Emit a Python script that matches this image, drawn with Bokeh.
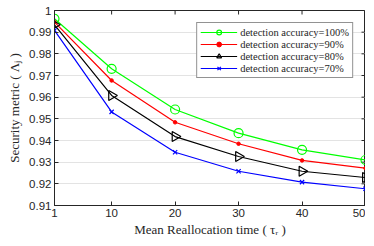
import math
from bokeh.plotting import figure
from bokeh.models import FixedTicker, CustomJSTickFormatter, Legend, LegendItem, Range1d
from bokeh.embed import file_html
from bokeh.resources import INLINE

x_vals = [1, 10, 20, 30, 40, 50]
acc100 = [0.9962, 0.9731, 0.9543, 0.9434, 0.9357, 0.9310]
acc90 = [0.9946, 0.9677, 0.9484, 0.9385, 0.9308, 0.9272]
acc80 = [0.9934, 0.9608, 0.9418, 0.9326, 0.9258, 0.9229]
acc70 = [0.9908, 0.9532, 0.9346, 0.9258, 0.9208, 0.9177]
labels = ["detection accuracy=100%", "detection accuracy=90%",
          "detection accuracy=80%", "detection accuracy=70%"]
x_ticks = [1, 10, 20, 30, 40, 50]
y_ticks = [0.91, 0.92, 0.93, 0.94, 0.95, 0.96, 0.97, 0.98, 0.99, 1.0]
x_min, x_max = 1, 50
y_min, y_max = 0.91, 1.0

p = figure(frame_width=311, frame_height=195, output_backend="svg", toolbar_location=None,
           x_range=Range1d(x_min, x_max), y_range=Range1d(y_min, y_max),
           min_border_left=54, min_border_right=0, min_border_top=10, min_border_bottom=36)
p.outline_line_color = "#262626"
p.outline_line_width = 1
p.xgrid.visible = False
p.ygrid.ticker = FixedTicker(ticks=y_ticks)
p.ygrid.grid_line_color = "#e3e3e3"

fmt = CustomJSTickFormatter(code="return tick.toFixed(2).replace(/0+$/,'').replace(/\\.$/,'');")
for ax in p.xaxis:
    ax.ticker = FixedTicker(ticks=x_ticks)
for ax in p.yaxis:
    ax.ticker = FixedTicker(ticks=y_ticks)
    ax.formatter = fmt

for ax in list(p.xaxis) + list(p.yaxis):
    ax.major_tick_in = 4
    ax.major_tick_out = 0
    ax.minor_tick_line_color = None
    ax.axis_line_color = "#262626"
    ax.major_tick_line_color = "#262626"
    ax.major_label_text_font = "Liberation Sans"
    ax.major_label_text_font_size = "11.5px"
    ax.major_label_text_color = "#262626"
    ax.axis_label_text_font = "Liberation Serif"
    ax.axis_label_text_font_size = "13px"
    ax.axis_label_text_font_style = "normal"
    ax.axis_label_text_color = "#262626"

p.xaxis.axis_label = "Mean Reallocation time ( \u03c4\u1d63 )"
p.yaxis.axis_label = "Security metric ( \u039b\u2c7c )"
p.xaxis.axis_label_standoff = 2
p.yaxis.axis_label_standoff = 4
p.xaxis.major_label_standoff = 3
p.yaxis.major_label_standoff = 3

# mirrored inward ticks on top and right edges (clipped half of a dash marker)
p.scatter([x_max] * len(y_ticks), y_ticks, marker="dash", size=8, line_color="#262626", line_width=1)
p.scatter(x_ticks, [y_max] * len(x_ticks), marker="dash", angle=math.pi / 2, size=8,
          line_color="#262626", line_width=1)

items = []
r1 = p.line(x_vals, acc100, line_color="#00ff00", line_width=1.2)
m1 = p.scatter(x_vals, acc100, marker="circle", size=9, fill_color=None, line_color="#00ff00", line_width=1.2)
items.append(LegendItem(label=labels[0], renderers=[r1, m1]))
r2 = p.line(x_vals, acc90, line_color="#ff0000", line_width=1.2)
m2 = p.scatter(x_vals, acc90, marker="circle", size=3.5, fill_color="#ff0000", line_color="#ff0000")
items.append(LegendItem(label=labels[1], renderers=[r2, m2]))
r3 = p.line(x_vals, acc80, line_color="#000000", line_width=1.2)
m3 = p.scatter(x_vals, acc80, marker="triangle", size=10, angle=-math.pi / 2, fill_color=None,
               line_color="#000000", line_width=1.2)
items.append(LegendItem(label=labels[2], renderers=[r3, m3]))
r4 = p.line(x_vals, acc70, line_color="#0000ff", line_width=1.2)
m4 = p.scatter(x_vals, acc70, marker="x", size=6, line_color="#0000ff", line_width=1.2)
items.append(LegendItem(label=labels[3], renderers=[r4, m4]))

legend = Legend(items=items, location="top_right")
legend.label_text_font = "Liberation Serif"
legend.label_text_font_size = "10.5px"
legend.label_text_color = "#262626"
legend.glyph_width = 37
legend.glyph_height = 12
legend.label_height = 12
legend.spacing = 0
legend.padding = 3
legend.margin = 12
legend.label_standoff = 3
legend.border_line_color = "#262626"
legend.border_line_width = 1
legend.background_fill_alpha = 1
p.add_layout(legend)

open("out.html", "w").write(file_html(p, INLINE))
